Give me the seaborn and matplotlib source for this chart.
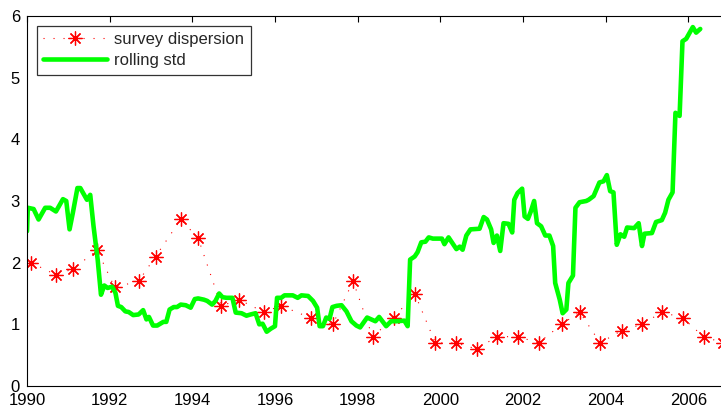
import numpy as np
import pandas as pd
import matplotlib
matplotlib.use("Agg")
import matplotlib.pyplot as plt
import seaborn as sns

# survey dispersion (semiannual)
survey_dates = [1990.10, 1990.71, 1991.11, 1991.70, 1992.12, 1992.70, 1993.11, 1993.72,
                1994.14, 1994.70, 1995.13, 1995.73, 1996.15, 1996.88, 1997.40, 1997.89,
                1998.36, 1998.87, 1999.38, 1999.88, 2000.37, 2000.88, 2001.37, 2001.88,
                2002.38, 2002.94, 2003.37, 2003.87, 2004.39, 2004.88, 2005.37, 2005.87,
                2006.37, 2006.85]
survey_values = [2.0, 1.8, 1.9, 2.2, 1.6, 1.7, 2.1, 2.7, 2.4, 1.3, 1.4, 1.2, 1.3, 1.1,
                 1.0, 1.7, 0.8, 1.1, 1.5, 0.7, 0.7, 0.6, 0.8, 0.8, 0.7, 1.0, 1.2, 0.7,
                 0.9, 1.0, 1.2, 1.1, 0.8, 0.7]

# rolling std (traced)
roll_dates = [1990.00, 1990.02, 1990.16, 1990.28, 1990.44, 1990.56, 1990.70, 1990.87,
              1990.95, 1991.03, 1991.11, 1991.22, 1991.29, 1991.45, 1991.53, 1991.61,
              1991.71, 1991.79, 1991.87, 1991.95, 1992.06, 1992.14, 1992.20, 1992.28,
              1992.38, 1992.46, 1992.57, 1992.70, 1992.81, 1992.89, 1992.95, 1993.05,
              1993.15, 1993.30, 1993.37, 1993.45, 1993.55, 1993.63, 1993.72, 1993.84,
              1993.96, 1994.06, 1994.14, 1994.28, 1994.36, 1994.48, 1994.56, 1994.65,
              1994.73, 1994.83, 1994.97, 1995.05, 1995.19, 1995.31, 1995.41, 1995.53,
              1995.62, 1995.70, 1995.80, 1995.90, 1996.00, 1996.05, 1996.15, 1996.23,
              1996.43, 1996.55, 1996.64, 1996.80, 1996.92, 1997.02, 1997.08, 1997.16,
              1997.24, 1997.32, 1997.39, 1997.49, 1997.61, 1997.73, 1997.85, 1997.97,
              1998.06, 1998.23, 1998.43, 1998.52, 1998.69, 1998.81, 1998.95, 1999.13,
              1999.21, 1999.27, 1999.38, 1999.45, 1999.54, 1999.64, 1999.72, 1999.82,
              2000.04, 2000.10, 2000.20, 2000.39, 2000.47, 2000.54, 2000.63, 2000.73,
              2000.95, 2001.05, 2001.13, 2001.23, 2001.29, 2001.37, 2001.45, 2001.53,
              2001.65, 2001.74, 2001.79, 2001.87, 2001.98, 2002.04, 2002.12, 2002.19,
              2002.27, 2002.34, 2002.44, 2002.54, 2002.64, 2002.73, 2002.78, 2002.89,
              2002.96, 2003.05, 2003.10, 2003.21, 2003.27, 2003.37, 2003.53, 2003.59,
              2003.71, 2003.85, 2003.95, 2004.03, 2004.11, 2004.19, 2004.27, 2004.36,
              2004.45, 2004.52, 2004.69, 2004.80, 2004.88, 2004.94, 2005.12, 2005.22,
              2005.36, 2005.44, 2005.52, 2005.62, 2005.69, 2005.79, 2005.86, 2005.95,
              2006.11, 2006.19, 2006.29]
roll_values = [2.51, 2.89, 2.87, 2.70, 2.89, 2.89, 2.83, 3.03, 3.00, 2.54, 2.81, 3.21,
               3.21, 3.02, 3.10, 2.59, 2.05, 1.48, 1.63, 1.59, 1.61, 1.51, 1.30, 1.28,
               1.21, 1.20, 1.15, 1.16, 1.23, 1.08, 1.12, 0.98, 0.98, 1.04, 1.04, 1.24,
               1.28, 1.28, 1.32, 1.31, 1.27, 1.41, 1.42, 1.40, 1.38, 1.32, 1.38, 1.50,
               1.44, 1.43, 1.43, 1.19, 1.18, 1.14, 1.16, 1.18, 1.00, 1.01, 0.88, 0.93,
               0.97, 1.43, 1.43, 1.47, 1.47, 1.43, 1.47, 1.46, 1.38, 1.27, 0.97, 0.97,
               1.11, 1.09, 1.28, 1.30, 1.31, 1.21, 1.05, 0.98, 0.95, 1.11, 1.05, 1.12,
               0.97, 1.05, 1.05, 1.06, 0.97, 2.05, 2.10, 2.17, 2.33, 2.34, 2.41, 2.39,
               2.39, 2.30, 2.41, 2.22, 2.26, 2.21, 2.44, 2.54, 2.55, 2.74, 2.70, 2.54,
               2.32, 2.44, 2.19, 2.64, 2.63, 2.49, 3.02, 3.13, 3.20, 2.75, 2.71, 2.83,
               3.00, 2.64, 2.59, 2.44, 2.44, 2.27, 1.67, 1.40, 1.18, 1.24, 1.67, 1.79,
               2.89, 2.98, 3.00, 3.02, 3.08, 3.30, 3.32, 3.42, 3.16, 3.14, 2.29, 2.46,
               2.42, 2.57, 2.56, 2.64, 2.27, 2.47, 2.48, 2.66, 2.69, 2.81, 3.02, 3.14,
               4.43, 4.38, 5.59, 5.63, 5.82, 5.73, 5.79]

survey = pd.DataFrame({"date": survey_dates, "value": survey_values})
rolling = pd.DataFrame({"date": roll_dates, "value": roll_values})

sns.set_style("white")
plt.rcParams["font.family"] = ["Liberation Sans", "DejaVu Sans"]

fig = plt.figure(figsize=(7.21, 4.11), dpi=100)
ax = fig.add_axes([27 / 721, 1 - 386 / 411, 702.6 / 721, 370 / 411])

sns.lineplot(data=survey, x="date", y="value", ax=ax, color="#ff0000",
             linestyle=(0, (1, 8)), linewidth=0.8, marker=(8, 2, 0), markersize=10,
             markeredgewidth=0.9, markeredgecolor="#ff0000",
             label="survey dispersion")
sns.lineplot(data=rolling, x="date", y="value", ax=ax, color="#00ff00",
             linewidth=3.3, label="rolling std")

ax.set_xlim(1990, 2007)
ax.set_ylim(0, 6)
ax.set_xticks(range(1990, 2007, 2))
ax.set_yticks(range(0, 7))
ax.set_xlabel("")
ax.set_ylabel("")
ax.tick_params(direction="in", length=4.5, width=0.8, top=True, right=True,
               labelsize=12, colors="black")
ax.tick_params(axis="x", pad=5)
ax.tick_params(axis="y", pad=5)
for s in ax.spines.values():
    s.set_visible(True)
    s.set_color("black")
    s.set_linewidth(0.8)

leg = ax.legend(loc="upper left", bbox_to_anchor=(0.0, 1.0),
                borderaxespad=0.58, fontsize=12, frameon=True, fancybox=False,
                handlelength=3.8, borderpad=0.4, labelspacing=0.35,
                handletextpad=0.45)
leg.get_frame().set_edgecolor("black")
leg.get_frame().set_linewidth(0.9)

fig.savefig("out.png", dpi=100)
